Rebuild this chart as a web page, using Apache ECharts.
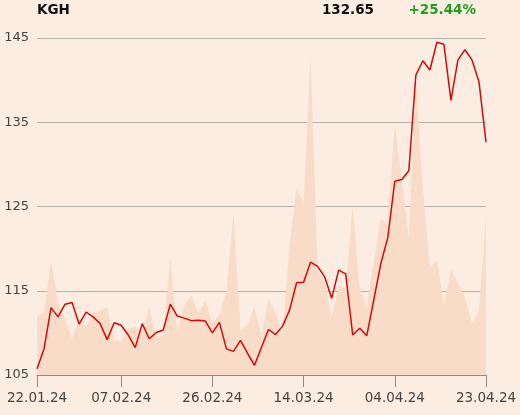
<!DOCTYPE html>
<html>
<head>
<meta charset="utf-8">
<script src="https://cdn.jsdelivr.net/npm/echarts@6/dist/echarts.min.js"></script>
<style>
html,body{margin:0;padding:0;background:#FBEDE1;}
#c{width:520px;height:415px;}
</style>
</head>
<body>
<div id="c"></div>
<script>
const dates = [
 '22.01.24','23.01.24','24.01.24','25.01.24','26.01.24','29.01.24','30.01.24','31.01.24',
 '01.02.24','02.02.24','05.02.24','06.02.24','07.02.24','08.02.24','09.02.24',
 '12.02.24','13.02.24','14.02.24','15.02.24','16.02.24',
 '19.02.24','20.02.24','21.02.24','22.02.24','23.02.24',
 '26.02.24','27.02.24','28.02.24','29.02.24','01.03.24',
 '04.03.24','05.03.24','06.03.24','07.03.24','08.03.24',
 '11.03.24','12.03.24','13.03.24','14.03.24','15.03.24',
 '18.03.24','19.03.24','20.03.24','21.03.24','22.03.24',
 '25.03.24','26.03.24','27.03.24','28.03.24',
 '02.04.24','03.04.24','04.04.24','05.04.24',
 '08.04.24','09.04.24','10.04.24','11.04.24','12.04.24',
 '15.04.24','16.04.24','17.04.24','18.04.24','19.04.24',
 '22.04.24','23.04.24'
];
const prices = [
 105.75,108.1,113.0,111.9,113.4,113.6,111.05,112.45,
 111.9,111.1,109.2,111.2,110.9,109.75,108.25,
 111.1,109.3,110.05,110.35,113.4,
 112.0,111.75,111.45,111.5,111.4,
 110.0,111.25,108.1,107.8,109.1,
 107.6,106.15,108.3,110.4,109.8,
 110.8,112.7,115.95,116.0,118.4,
 117.9,116.65,114.1,117.45,117.0,
 109.75,110.55,109.65,113.9,
 118.2,121.3,128.0,128.2,
 129.25,140.6,142.3,141.2,144.5,
 144.25,137.6,142.4,143.6,142.4,
 139.8,132.65
];
const volumes = [
 17.5,18.7,33.8,21.7,16.3,10.7,16.6,14.2,
 18.4,19.0,20.2,10.4,10.1,13.9,14.2,
 12.8,19.9,11.3,11.9,34.7,
 12.8,20.5,23.7,18.4,22.0,
 15.4,17.8,24.6,48.1,13.4,
 14.8,20.2,11.3,22.8,18.4,
 11.9,38.6,55.5,51.3,94.4,
 31.2,27.3,16.9,26.1,25.8,
 50.1,26.1,20.2,33.5,
 46.3,44.8,74.5,57.9,
 40.9,87.8,55.8,31.8,34.1,
 20.8,31.2,27.3,23.1,15.4,
 19.0,46.9
];
const tickDates = ['22.01.24','07.02.24','26.02.24','14.03.24','04.04.24','23.04.24'];
const yTicks = [105,115,125,135,145];
const symbol = 'KGH';
const lastPrice = '132.65';
const change = '+25.44%';

const chart = echarts.init(document.getElementById('c'));
const showTick = (idx, val) => tickDates.indexOf(dates[idx]) >= 0;
chart.setOption({
  backgroundColor: '#FBEDE1',
  animation: false,
  grid: {left: 37, right: 34, top: 38, bottom: 40},
  xAxis: {
    type: 'category',
    data: dates,
    boundaryGap: false,
    axisLine: {lineStyle: {color: '#8c8c8c', width: 1}},
    axisTick: {interval: showTick, length: 12, lineStyle: {color: '#8c8c8c'}},
    axisLabel: {interval: showTick, color: '#444', fontSize: 13.5, fontFamily: 'DejaVu Sans', margin: 16},
    splitLine: {show: false}
  },
  yAxis: [{
    type: 'value',
    min: yTicks[0], max: yTicks[yTicks.length-1], interval: 10,
    axisLine: {show: false},
    axisTick: {show: false},
    axisLabel: {color: '#444', fontSize: 13, fontFamily: 'DejaVu Sans', margin: 8},
    splitLine: {lineStyle: {color: '#b5b0aa', width: 1}}
  }, {
    type: 'value', min: 0, max: 100, show: false, splitLine: {show: false}
  }],
  graphic: [
    {type: 'text', left: 37, top: 3, style: {text: symbol, font: 'bold 13.5px "DejaVu Sans"', fill: '#111'}},
    {type: 'text', x: 374, y: 10, style: {text: lastPrice, font: 'bold 13.5px "DejaVu Sans"', fill: '#111', textAlign: 'right', textVerticalAlign: 'middle'}},
    {type: 'text', x: 476, y: 10, style: {text: change, font: 'bold 13.5px "DejaVu Sans"', fill: '#1f9e1a', textAlign: 'right', textVerticalAlign: 'middle'}}
  ],
  series: [{
    type: 'line',
    yAxisIndex: 1,
    data: volumes,
    symbol: 'none',
    lineStyle: {width: 0},
    areaStyle: {color: '#F8DCC8', opacity: 1},
    z: 1
  }, {
    type: 'line',
    data: prices,
    symbol: 'none',
    lineStyle: {color: '#d40a0a', width: 1.5},
    z: 3
  }]
});
</script>
</body>
</html>
